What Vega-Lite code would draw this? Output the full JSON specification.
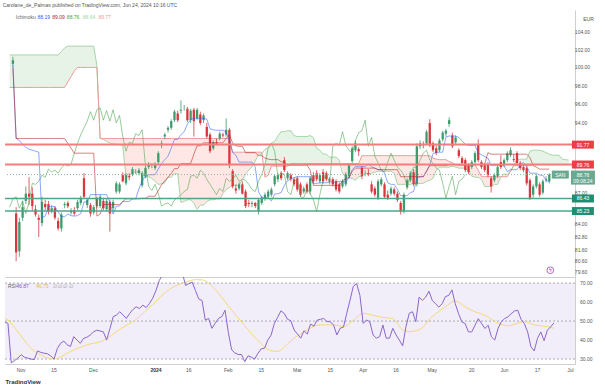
{
"$schema":"https://vega.github.io/schema/vega-lite/v6.json",
"padding":{"left":2,"top":3,"right":0,"bottom":0},
"background":"white",
"config":{"view":{"stroke":null},"font":"Liberation Sans"},
"title":{"text":"Carolane_de_Palmas published on TradingView.com, Jun 24, 2024 10:16 UTC","anchor":"start","fontSize":5,"fontWeight":"normal","color":"#555","offset":2},
"spacing":0,
"datasets":{
"one":[{}],
"pt":[{"v":104},{"v":102},{"v":100},{"v":98},{"v":96},{"v":94},{"v":87},{"v":84},{"v":82.8},{"v":81.6},{"v":80.6},{"v":79.6}],
"rt":[{"v":70},{"v":60},{"v":50},{"v":40},{"v":30}],
"xt":[{"i":0,"t":"Nov"},{"i":10,"t":"15"},{"i":22,"t":"Dec"},{"i":41,"t":"2024"},{"i":51,"t":"16"},{"i":63,"t":"Feb"},{"i":73,"t":"15"},{"i":84,"t":"Mar"},{"i":94,"t":"15"},{"i":104,"t":"Apr"},{"i":114,"t":"16"},{"i":125,"t":"May"},{"i":137,"t":"20"},{"i":147,"t":"Jun"},{"i":157,"t":"17"},{"i":167,"t":"Jul"}],
"d":[
{"i":-5,"lag":85.6,"sa":101.4,"sb":97.8,"cs":1,"rsi":49.5},
{"i":-4,"o":100.4,"h":101.2,"l":100.1,"c":100.8,"tk":100.3,"kj":100.0,"lag":86.4,"sa":101.4,"sb":97.8,"cs":1,"rsi":48.8},
{"i":-3,"o":85.0,"h":85.6,"l":80.6,"c":81.4,"tk":92.4,"kj":92.4,"lag":86.6,"sa":101.4,"sb":97.8,"cs":1,"rsi":28.0},
{"i":-2,"o":81.5,"h":84.6,"l":81.0,"c":84.2,"tk":92.2,"kj":92.4,"lag":85.5,"sa":101.4,"sb":97.8,"cs":1,"rsi":29.2},
{"i":-1,"o":84.6,"h":86.2,"l":84.3,"c":85.6,"tk":91.8,"kj":92.4,"lag":86.2,"sa":101.4,"sb":97.8,"cs":1,"rsi":30.5},
{"i":0,"o":86.2,"h":87.6,"l":85.9,"c":86.9,"tk":91.5,"kj":92.4,"lag":85.0,"sa":101.4,"sb":97.8,"cs":1,"rsi":32.3},
{"i":1,"o":86.9,"h":88.5,"l":85.8,"c":86.6,"tk":91.3,"kj":92.4,"lag":86.1,"sa":101.4,"sb":97.8,"cs":1,"rsi":31.0},
{"i":2,"o":86.9,"h":87.5,"l":85.3,"c":85.7,"tk":91.2,"kj":92.4,"lag":87.9,"sa":101.4,"sb":97.8,"cs":1,"rsi":30.5},
{"i":3,"o":85.4,"h":85.8,"l":84.7,"c":84.9,"tk":91.1,"kj":92.4,"lag":87.8,"sa":101.4,"sb":97.8,"cs":1,"rsi":30.0},
{"i":4,"o":84.6,"h":84.9,"l":82.8,"c":84.4,"tk":91.0,"kj":92.4,"lag":88.1,"sa":101.4,"sb":97.8,"cs":1,"rsi":29.7},
{"i":5,"o":84.1,"h":86.6,"l":83.8,"c":86.1,"tk":84.6,"kj":92.4,"lag":88.7,"sa":101.4,"sb":97.8,"cs":1,"rsi":34.3},
{"i":6,"o":85.9,"h":86.3,"l":85.3,"c":85.6,"tk":84.75,"kj":92.4,"lag":88.5,"sa":101.4,"sb":97.8,"cs":1,"rsi":33.5},
{"i":7,"o":85.9,"h":86.2,"l":84.9,"c":85.2,"tk":85.65,"kj":92.4,"lag":89.3,"sa":101.4,"sb":97.8,"cs":1,"rsi":33.1},
{"i":8,"o":85.2,"h":85.8,"l":85.0,"c":85.5,"tk":85.65,"kj":92.4,"lag":89.0,"sa":101.4,"sb":97.8,"cs":1,"rsi":32.8},
{"i":9,"o":85.5,"h":85.7,"l":84.4,"c":84.6,"tk":85.65,"kj":92.4,"lag":89.2,"sa":101.4,"sb":97.8,"cs":1,"rsi":31.7},
{"i":10,"o":84.3,"h":84.6,"l":83.4,"c":83.6,"tk":85.15,"kj":92.4,"lag":88.9,"sa":101.4,"sb":97.8,"cs":1,"rsi":30.0},
{"i":11,"o":83.6,"h":85.1,"l":83.3,"c":84.9,"tk":84.7,"kj":92.4,"lag":89.4,"sa":101.8,"sb":97.8,"cs":1,"rsi":35.5},
{"i":12,"o":85.8,"h":86.1,"l":85.5,"c":85.9,"tk":84.7,"kj":92.4,"lag":89.8,"sa":102.2,"sb":97.8,"cs":1,"rsi":38.3},
{"i":13,"o":86.0,"h":86.2,"l":85.5,"c":85.7,"tk":84.95,"kj":91.9,"lag":89.6,"sa":102.4,"sb":98.4,"cs":1,"rsi":39.5},
{"i":14,"o":85.1,"h":85.5,"l":84.9,"c":85.3,"tk":84.8,"kj":91.4,"lag":89.8,"sa":102.4,"sb":99.0,"cs":1,"rsi":37.5},
{"i":15,"o":85.3,"h":85.6,"l":84.8,"c":85.0,"tk":84.75,"kj":90.9,"lag":90.9,"sa":102.4,"sb":99.6,"cs":1,"rsi":36.6},
{"i":16,"o":85.5,"h":86.3,"l":85.3,"c":86.1,"tk":84.8,"kj":90.9,"lag":91.9,"sa":102.4,"sb":100.0,"cs":1,"rsi":41.8},
{"i":17,"o":86.0,"h":86.7,"l":85.8,"c":86.5,"tk":85.0,"kj":90.9,"lag":92.8,"sa":102.4,"sb":100.0,"cs":1,"rsi":40.0},
{"i":18,"o":88.4,"h":88.9,"l":86.4,"c":86.6,"tk":86.1,"kj":90.9,"lag":93.5,"sa":102.4,"sb":100.0,"cs":1,"rsi":38.3},
{"i":19,"o":85.8,"h":86.5,"l":85.5,"c":86.3,"tk":86.1,"kj":90.9,"lag":94.2,"sa":102.4,"sb":100.0,"cs":1,"rsi":40.9},
{"i":20,"o":85.8,"h":86.0,"l":84.7,"c":85.0,"tk":86.8,"kj":90.9,"lag":95.2,"sa":102.4,"sb":100.0,"cs":1,"rsi":41.5},
{"i":21,"o":85.1,"h":85.8,"l":84.9,"c":85.6,"tk":86.8,"kj":90.9,"lag":94.3,"sa":102.4,"sb":100.0,"cs":1,"rsi":42.6},
{"i":22,"o":85.7,"h":86.6,"l":85.5,"c":86.4,"tk":86.8,"kj":84.75,"lag":95.4,"sa":100.2,"sb":100.0,"cs":1,"rsi":44.3},
{"i":23,"o":85.7,"h":86.8,"l":85.5,"c":86.6,"tk":86.8,"kj":84.95,"lag":95.6,"sa":92.4,"sb":92.4,"cs":2,"rsi":45.2},
{"i":24,"o":86.2,"h":86.5,"l":85.3,"c":85.5,"tk":86.8,"kj":85.85,"lag":94.3,"sa":92.3,"sb":92.4,"cs":2,"rsi":44.8},
{"i":25,"o":85.4,"h":86.4,"l":85.2,"c":86.2,"tk":86.8,"kj":85.85,"lag":95.3,"sa":92.1,"sb":92.4,"cs":2,"rsi":44.3},
{"i":26,"o":86.1,"h":86.3,"l":83.3,"c":85.0,"tk":86.1,"kj":85.85,"lag":94.2,"sa":91.95,"sb":92.4,"cs":2,"rsi":40.0},
{"i":27,"o":85.5,"h":86.3,"l":85.2,"c":86.1,"tk":84.95,"kj":85.85,"lag":95.4,"sa":91.85,"sb":92.4,"cs":2,"rsi":46.0},
{"i":28,"o":87.1,"h":88.1,"l":86.9,"c":87.9,"tk":85.7,"kj":85.85,"lag":94.0,"sa":91.8,"sb":92.4,"cs":2,"rsi":52.3},
{"i":29,"o":87.1,"h":88.0,"l":86.9,"c":87.8,"tk":85.7,"kj":85.85,"lag":94.8,"sa":91.75,"sb":92.4,"cs":2,"rsi":53.2},
{"i":30,"o":88.7,"h":89.0,"l":88.0,"c":88.1,"tk":86.15,"kj":86.15,"lag":92.6,"sa":91.7,"sb":92.4,"cs":2,"rsi":54.9},
{"i":31,"o":87.9,"h":88.9,"l":87.7,"c":88.7,"tk":86.15,"kj":86.4,"lag":91.1,"sa":88.5,"sb":92.4,"cs":2,"rsi":53.2},
{"i":32,"o":88.6,"h":88.9,"l":88.2,"c":88.5,"tk":86.15,"kj":86.4,"lag":92.0,"sa":88.6,"sb":92.4,"cs":2,"rsi":51.4},
{"i":33,"o":88.8,"h":89.5,"l":88.6,"c":89.3,"tk":86.4,"kj":86.4,"lag":91.9,"sa":89.0,"sb":92.4,"cs":2,"rsi":54.0},
{"i":34,"o":89.0,"h":89.3,"l":88.8,"c":89.0,"tk":86.4,"kj":86.4,"lag":92.9,"sa":89.0,"sb":92.4,"cs":2,"rsi":56.1},
{"i":35,"o":88.9,"h":89.4,"l":88.7,"c":89.2,"tk":87.35,"kj":86.4,"lag":92.7,"sa":89.0,"sb":92.4,"cs":2,"rsi":57.5},
{"i":36,"o":87.7,"h":89.1,"l":87.5,"c":88.9,"tk":88.2,"kj":86.45,"lag":93.3,"sa":88.8,"sb":92.4,"cs":2,"rsi":56.6},
{"i":37,"o":88.6,"h":89.6,"l":88.4,"c":89.4,"tk":88.55,"kj":86.45,"lag":89.7,"sa":88.55,"sb":92.4,"cs":2,"rsi":58.4},
{"i":38,"o":89.5,"h":90.0,"l":89.3,"c":89.8,"tk":88.75,"kj":86.65,"lag":87.6,"sa":88.55,"sb":92.4,"cs":2,"rsi":57.1},
{"i":39,"o":89.6,"h":89.9,"l":89.4,"c":89.6,"tk":88.75,"kj":86.65,"lag":87.2,"sa":88.4,"sb":92.4,"cs":2,"rsi":59.2},
{"i":40,"o":89.4,"h":90.0,"l":89.2,"c":89.8,"tk":88.75,"kj":86.65,"lag":87.8,"sa":88.1,"sb":92.4,"cs":2,"rsi":62.0},
{"i":41,"o":90.0,"h":91.1,"l":89.8,"c":90.9,"tk":89.3,"kj":87.2,"lag":86.9,"sa":87.8,"sb":92.4,"cs":2,"rsi":66.1},
{"i":42,"o":91.7,"h":92.2,"l":91.4,"c":91.9,"tk":89.85,"kj":87.75,"lag":85.7,"sa":87.85,"sb":92.4,"cs":2,"rsi":71.3},
{"i":43,"o":92.6,"h":93.0,"l":92.3,"c":92.8,"tk":90.25,"kj":88.15,"lag":85.9,"sa":87.95,"sb":92.4,"cs":2,"rsi":74.5},
{"i":44,"o":93.3,"h":93.7,"l":93.0,"c":93.5,"tk":90.6,"kj":88.5,"lag":86.0,"sa":88.5,"sb":92.4,"cs":2,"rsi":76.5},
{"i":45,"o":93.5,"h":94.4,"l":93.3,"c":94.2,"tk":91.4,"kj":88.85,"lag":85.7,"sa":88.5,"sb":92.4,"cs":2,"rsi":78.5},
{"i":46,"o":94.3,"h":95.4,"l":94.1,"c":95.2,"tk":92.3,"kj":89.35,"lag":86.3,"sa":88.85,"sb":92.4,"cs":2,"rsi":80.5},
{"i":47,"o":95.0,"h":95.3,"l":94.1,"c":94.3,"tk":92.3,"kj":89.35,"lag":86.5,"sa":88.85,"sb":92.4,"cs":2,"rsi":74.5},
{"i":48,"o":95.3,"h":96.4,"l":95.0,"c":95.4,"tk":92.8,"kj":89.85,"lag":86.8,"sa":86.05,"sb":92.4,"cs":2,"rsi":76.0},
{"i":49,"o":95.6,"h":95.9,"l":95.3,"c":95.6,"tk":93.1,"kj":89.85,"lag":87.1,"sa":86.15,"sb":92.4,"cs":2,"rsi":75.5},
{"i":50,"o":95.5,"h":95.7,"l":94.1,"c":94.3,"tk":93.9,"kj":89.85,"lag":87.3,"sa":86.3,"sb":92.4,"cs":2,"rsi":68.8},
{"i":51,"o":94.3,"h":95.5,"l":94.0,"c":95.3,"tk":94.35,"kj":89.85,"lag":88.6,"sa":86.3,"sb":92.4,"cs":2,"rsi":69.7},
{"i":52,"o":95.4,"h":95.6,"l":92.6,"c":94.2,"tk":94.5,"kj":90.8,"lag":88.7,"sa":86.0,"sb":92.4,"cs":2,"rsi":70.5},
{"i":53,"o":94.5,"h":95.6,"l":94.3,"c":95.4,"tk":94.5,"kj":91.65,"lag":88.4,"sa":85.4,"sb":92.4,"cs":2,"rsi":66.1},
{"i":54,"o":94.9,"h":95.2,"l":93.8,"c":94.0,"tk":94.5,"kj":91.65,"lag":89.2,"sa":85.8,"sb":92.4,"cs":2,"rsi":61.7},
{"i":55,"o":94.3,"h":95.0,"l":94.0,"c":94.8,"tk":94.5,"kj":91.95,"lag":88.9,"sa":85.8,"sb":92.4,"cs":2,"rsi":60.8},
{"i":56,"o":93.6,"h":94.0,"l":92.4,"c":92.6,"tk":94.4,"kj":91.95,"lag":88.3,"sa":86.15,"sb":92.4,"cs":2,"rsi":50.5},
{"i":57,"o":92.8,"h":93.0,"l":90.9,"c":91.1,"tk":93.4,"kj":91.95,"lag":87.8,"sa":86.3,"sb":92.4,"cs":2,"rsi":51.4},
{"i":58,"o":91.4,"h":92.2,"l":91.2,"c":92.0,"tk":93.3,"kj":91.95,"lag":87.3,"sa":86.3,"sb":92.4,"cs":2,"rsi":46.2},
{"i":59,"o":92.0,"h":92.4,"l":91.7,"c":91.9,"tk":93.25,"kj":91.95,"lag":86.8,"sa":86.4,"sb":92.4,"cs":2,"rsi":48.8},
{"i":60,"o":92.4,"h":93.1,"l":92.2,"c":92.9,"tk":93.25,"kj":91.95,"lag":87.4,"sa":86.4,"sb":92.4,"cs":2,"rsi":51.4},
{"i":61,"o":92.8,"h":93.0,"l":92.5,"c":92.7,"tk":93.25,"kj":91.95,"lag":87.1,"sa":86.9,"sb":92.4,"cs":2,"rsi":52.3},
{"i":62,"o":92.8,"h":94.5,"l":92.6,"c":93.3,"tk":93.05,"kj":92.4,"lag":88.4,"sa":87.3,"sb":92.4,"cs":2,"rsi":55.7},
{"i":63,"o":93.3,"h":93.5,"l":89.4,"c":89.7,"tk":92.2,"kj":92.8,"lag":88.1,"sa":87.5,"sb":92.4,"cs":2,"rsi":44.0},
{"i":64,"o":89.1,"h":89.3,"l":87.4,"c":87.6,"tk":90.95,"kj":91.9,"lag":88.3,"sa":87.7,"sb":91.0,"cs":2,"rsi":34.9},
{"i":65,"o":87.4,"h":87.8,"l":86.9,"c":87.2,"tk":90.7,"kj":91.65,"lag":88.7,"sa":87.7,"sb":91.0,"cs":2,"rsi":33.2},
{"i":66,"o":87.4,"h":88.0,"l":87.2,"c":87.8,"tk":90.0,"kj":91.6,"lag":88.1,"sa":87.7,"sb":91.0,"cs":2,"rsi":32.4},
{"i":67,"o":87.8,"h":88.1,"l":86.8,"c":86.9,"tk":90.0,"kj":91.6,"lag":88.3,"sa":88.25,"sb":91.0,"cs":2,"rsi":32.4},
{"i":68,"o":87.1,"h":87.3,"l":85.5,"c":85.7,"tk":90.0,"kj":90.95,"lag":88.2,"sa":88.8,"sb":91.0,"cs":2,"rsi":28.6},
{"i":69,"o":86.0,"h":86.3,"l":85.6,"c":85.9,"tk":90.0,"kj":90.95,"lag":87.8,"sa":89.2,"sb":91.0,"cs":2,"rsi":31.7},
{"i":70,"o":85.9,"h":86.2,"l":85.6,"c":86.0,"tk":90.0,"kj":90.95,"lag":87.3,"sa":89.55,"sb":91.0,"cs":2,"rsi":31.0},
{"i":71,"o":86.0,"h":86.1,"l":85.5,"c":85.7,"tk":89.5,"kj":90.95,"lag":87.1,"sa":90.1,"sb":91.0,"cs":2,"rsi":30.0},
{"i":72,"o":85.2,"h":86.4,"l":84.9,"c":86.3,"tk":87.1,"kj":90.65,"lag":88.1,"sa":90.8,"sb":91.0,"cs":2,"rsi":33.0},
{"i":73,"o":86.0,"h":86.7,"l":85.8,"c":86.5,"tk":86.5,"kj":90.65,"lag":88.8,"sa":90.8,"sb":91.0,"cs":2,"rsi":35.4},
{"i":74,"o":86.4,"h":87.0,"l":86.2,"c":86.8,"tk":86.5,"kj":90.4,"lag":89.7,"sa":91.3,"sb":88.5,"cs":3,"rsi":35.7},
{"i":75,"o":86.6,"h":87.3,"l":86.4,"c":87.1,"tk":86.5,"kj":90.3,"lag":91.4,"sa":91.5,"sb":88.7,"cs":3,"rsi":40.0},
{"i":76,"o":86.8,"h":87.5,"l":86.6,"c":87.3,"tk":86.2,"kj":90.25,"lag":91.9,"sa":91.9,"sb":89.6,"cs":3,"rsi":42.6},
{"i":77,"o":87.8,"h":88.8,"l":87.6,"c":88.6,"tk":86.85,"kj":90.25,"lag":91.1,"sa":92.1,"sb":89.6,"cs":3,"rsi":48.8},
{"i":78,"o":88.3,"h":88.9,"l":88.0,"c":88.7,"tk":86.9,"kj":90.25,"lag":88.6,"sa":92.65,"sb":89.6,"cs":3,"rsi":52.0},
{"i":79,"o":88.9,"h":89.1,"l":88.2,"c":88.4,"tk":87.0,"kj":90.05,"lag":88.9,"sa":93.1,"sb":89.6,"cs":3,"rsi":55.4},
{"i":80,"o":90.2,"h":90.5,"l":89.0,"c":89.2,"tk":87.7,"kj":89.95,"lag":88.8,"sa":93.1,"sb":89.6,"cs":3,"rsi":54.0},
{"i":81,"o":88.4,"h":89.1,"l":88.2,"c":88.9,"tk":88.15,"kj":89.7,"lag":87.1,"sa":93.2,"sb":89.6,"cs":3,"rsi":50.9},
{"i":82,"o":88.7,"h":88.9,"l":88.1,"c":88.3,"tk":88.35,"kj":89.7,"lag":86.8,"sa":93.2,"sb":89.85,"cs":3,"rsi":50.2},
{"i":83,"o":88.3,"h":88.5,"l":87.6,"c":87.8,"tk":88.45,"kj":89.7,"lag":88.1,"sa":92.7,"sb":89.85,"cs":3,"rsi":45.3},
{"i":84,"o":88.4,"h":88.6,"l":87.1,"c":87.3,"tk":88.55,"kj":89.7,"lag":88.3,"sa":92.6,"sb":89.85,"cs":3,"rsi":43.2},
{"i":85,"o":87.8,"h":88.0,"l":86.6,"c":86.8,"tk":88.55,"kj":89.7,"lag":86.6,"sa":92.6,"sb":89.85,"cs":3,"rsi":41.0},
{"i":86,"o":87.1,"h":87.6,"l":86.9,"c":87.4,"tk":88.55,"kj":89.7,"lag":86.5,"sa":92.6,"sb":89.85,"cs":3,"rsi":44.9},
{"i":87,"o":87.8,"h":88.0,"l":86.9,"c":87.1,"tk":88.55,"kj":89.7,"lag":87.4,"sa":92.6,"sb":89.85,"cs":3,"rsi":43.2},
{"i":88,"o":87.1,"h":88.6,"l":86.8,"c":88.4,"tk":88.55,"kj":89.2,"lag":86.9,"sa":92.7,"sb":89.85,"cs":3,"rsi":48.4},
{"i":89,"o":88.7,"h":89.0,"l":87.9,"c":88.1,"tk":87.85,"kj":87.7,"lag":86.3,"sa":92.5,"sb":89.85,"cs":3,"rsi":47.3},
{"i":90,"o":88.9,"h":89.2,"l":88.1,"c":88.3,"tk":87.9,"kj":87.7,"lag":85.2,"sa":91.4,"sb":89.85,"cs":3,"rsi":50.5},
{"i":91,"o":88.1,"h":88.9,"l":87.9,"c":88.7,"tk":87.95,"kj":87.7,"lag":86.8,"sa":91.2,"sb":89.85,"cs":3,"rsi":50.9},
{"i":92,"o":89.0,"h":89.3,"l":87.9,"c":88.1,"tk":87.95,"kj":87.7,"lag":88.2,"sa":90.8,"sb":89.85,"cs":3,"rsi":51.4},
{"i":93,"o":88.9,"h":89.1,"l":88.1,"c":88.3,"tk":87.95,"kj":87.7,"lag":88.9,"sa":90.8,"sb":89.85,"cs":3,"rsi":49.7},
{"i":94,"o":88.3,"h":88.5,"l":88.0,"c":88.2,"tk":88.05,"kj":87.7,"lag":87.8,"sa":90.5,"sb":89.85,"cs":3,"rsi":49.7},
{"i":95,"o":88.3,"h":88.5,"l":87.6,"c":87.8,"tk":88.05,"kj":87.7,"lag":91.6,"sa":90.5,"sb":89.85,"cs":3,"rsi":47.9},
{"i":96,"o":88.1,"h":88.3,"l":87.1,"c":87.3,"tk":88.05,"kj":87.7,"lag":91.9,"sa":90.5,"sb":89.85,"cs":3,"rsi":42.7},
{"i":97,"o":87.8,"h":88.0,"l":86.9,"c":87.1,"tk":88.1,"kj":87.7,"lag":91.7,"sa":90.2,"sb":89.85,"cs":3,"rsi":46.2},
{"i":98,"o":87.6,"h":88.3,"l":87.4,"c":88.1,"tk":88.1,"kj":88.15,"lag":93.1,"sa":88.9,"sb":89.85,"cs":4,"rsi":46.8},
{"i":99,"o":87.8,"h":89.0,"l":87.6,"c":88.8,"tk":88.1,"kj":88.35,"lag":91.7,"sa":88.6,"sb":89.85,"cs":4,"rsi":54.1},
{"i":100,"o":88.6,"h":89.9,"l":88.4,"c":89.7,"tk":88.4,"kj":88.45,"lag":91.2,"sa":88.45,"sb":89.85,"cs":4,"rsi":61.0},
{"i":101,"o":90.1,"h":91.6,"l":89.9,"c":91.4,"tk":89.25,"kj":89.1,"lag":90.9,"sa":88.4,"sb":89.85,"cs":4,"rsi":68.3},
{"i":102,"o":91.2,"h":92.2,"l":91.0,"c":91.9,"tk":89.55,"kj":89.4,"lag":92.2,"sa":88.2,"sb":89.85,"cs":4,"rsi":69.7},
{"i":103,"o":91.3,"h":91.5,"l":90.6,"c":91.1,"tk":89.55,"kj":89.4,"lag":93.0,"sa":88.55,"sb":89.85,"cs":4,"rsi":63.6},
{"i":104,"o":89.4,"h":89.6,"l":88.3,"c":88.6,"tk":89.55,"kj":89.4,"lag":93.2,"sa":88.6,"sb":90.65,"cs":4,"rsi":48.8},
{"i":105,"o":88.9,"h":89.2,"l":88.6,"c":88.9,"tk":89.55,"kj":89.4,"lag":94.3,"sa":88.9,"sb":90.65,"cs":4,"rsi":50.5},
{"i":106,"o":88.9,"h":89.3,"l":88.6,"c":88.8,"tk":89.8,"kj":89.4,"lag":91.6,"sa":88.8,"sb":90.65,"cs":4,"rsi":49.7},
{"i":107,"o":87.8,"h":88.1,"l":86.9,"c":87.1,"tk":89.55,"kj":89.4,"lag":92.5,"sa":88.9,"sb":90.65,"cs":4,"rsi":42.7},
{"i":108,"o":87.4,"h":87.6,"l":86.6,"c":86.8,"tk":89.4,"kj":89.4,"lag":90.6,"sa":89.0,"sb":90.65,"cs":4,"rsi":41.0},
{"i":109,"o":86.5,"h":88.3,"l":86.3,"c":88.1,"tk":89.25,"kj":89.25,"lag":89.9,"sa":89.1,"sb":90.65,"cs":4,"rsi":41.8},
{"i":110,"o":87.8,"h":88.5,"l":87.6,"c":88.3,"tk":89.25,"kj":89.25,"lag":89.2,"sa":89.1,"sb":90.65,"cs":4,"rsi":47.9},
{"i":111,"o":87.8,"h":88.0,"l":86.4,"c":86.6,"tk":88.9,"kj":89.25,"lag":89.0,"sa":89.1,"sb":90.65,"cs":4,"rsi":41.0},
{"i":112,"o":86.8,"h":87.2,"l":86.3,"c":86.5,"tk":87.95,"kj":89.25,"lag":90.0,"sa":89.1,"sb":90.65,"cs":4,"rsi":41.0},
{"i":113,"o":86.9,"h":87.6,"l":86.7,"c":87.4,"tk":87.8,"kj":89.25,"lag":90.9,"sa":89.1,"sb":90.65,"cs":4,"rsi":46.2},
{"i":114,"o":87.3,"h":87.5,"l":86.7,"c":86.9,"tk":87.8,"kj":89.25,"lag":90.2,"sa":88.9,"sb":90.65,"cs":4,"rsi":42.7},
{"i":115,"o":86.9,"h":87.1,"l":86.1,"c":86.3,"tk":87.3,"kj":89.25,"lag":89.5,"sa":87.8,"sb":90.65,"cs":4,"rsi":40.0},
{"i":116,"o":86.0,"h":86.2,"l":84.9,"c":85.2,"tk":86.7,"kj":88.55,"lag":89.2,"sa":87.8,"sb":90.65,"cs":4,"rsi":36.9},
{"i":117,"o":85.2,"h":87.0,"l":85.0,"c":86.8,"tk":86.7,"kj":88.55,"lag":88.7,"sa":87.8,"sb":90.65,"cs":4,"rsi":47.0},
{"i":118,"o":87.5,"h":88.4,"l":87.3,"c":88.2,"tk":86.7,"kj":88.55,"lag":87.6,"sa":87.8,"sb":90.65,"cs":4,"rsi":54.1},
{"i":119,"o":88.2,"h":89.1,"l":88.0,"c":88.9,"tk":87.0,"kj":88.55,"lag":88.7,"sa":87.8,"sb":90.65,"cs":4,"rsi":54.9},
{"i":120,"o":89.0,"h":89.3,"l":87.6,"c":87.8,"tk":87.1,"kj":88.55,"lag":89.5,"sa":87.9,"sb":90.65,"cs":4,"rsi":49.7},
{"i":121,"o":87.8,"h":91.9,"l":87.6,"c":91.6,"tk":88.4,"kj":88.55,"lag":89.5,"sa":87.9,"sb":90.65,"cs":4,"rsi":62.6},
{"i":122,"o":91.6,"h":92.2,"l":91.3,"c":91.9,"tk":88.55,"kj":88.55,"lag":90.2,"sa":87.9,"sb":90.65,"cs":4,"rsi":60.9},
{"i":123,"o":91.8,"h":92.1,"l":91.4,"c":91.7,"tk":88.55,"kj":88.55,"lag":90.9,"sa":87.9,"sb":90.65,"cs":4,"rsi":62.6},
{"i":124,"o":91.9,"h":93.3,"l":91.7,"c":93.1,"tk":89.1,"kj":89.1,"lag":91.2,"sa":88.1,"sb":90.65,"cs":4,"rsi":65.7},
{"i":125,"o":94.0,"h":94.4,"l":91.5,"c":91.7,"tk":89.7,"kj":89.65,"lag":90.2,"sa":88.2,"sb":90.65,"cs":4,"rsi":60.9},
{"i":126,"o":91.9,"h":92.1,"l":91.0,"c":91.2,"tk":90.85,"kj":89.65,"lag":89.9,"sa":88.4,"sb":90.4,"cs":4,"rsi":59.1},
{"i":127,"o":91.4,"h":91.7,"l":90.7,"c":90.9,"tk":91.0,"kj":89.65,"lag":89.4,"sa":89.2,"sb":90.3,"cs":4,"rsi":57.4},
{"i":128,"o":91.2,"h":92.4,"l":91.0,"c":92.2,"tk":91.0,"kj":89.65,"lag":89.2,"sa":89.5,"sb":90.25,"cs":4,"rsi":59.1},
{"i":129,"o":92.3,"h":93.2,"l":92.1,"c":93.0,"tk":91.0,"kj":89.65,"lag":87.9,"sa":89.5,"sb":90.25,"cs":4,"rsi":62.9},
{"i":130,"o":92.9,"h":93.4,"l":92.6,"c":93.2,"tk":92.55,"kj":89.65,"lag":86.5,"sa":89.5,"sb":90.25,"cs":4,"rsi":63.5},
{"i":131,"o":93.9,"h":94.6,"l":93.6,"c":94.3,"tk":92.65,"kj":89.75,"lag":87.6,"sa":89.5,"sb":90.05,"cs":4,"rsi":66.4},
{"i":132,"o":92.7,"h":93.0,"l":91.4,"c":91.6,"tk":92.65,"kj":89.75,"lag":88.6,"sa":89.6,"sb":89.95,"cs":4,"rsi":59.1},
{"i":133,"o":92.0,"h":92.7,"l":91.8,"c":92.5,"tk":92.65,"kj":89.75,"lag":86.8,"sa":89.5,"sb":89.7,"cs":4,"rsi":53.9},
{"i":134,"o":91.2,"h":91.4,"l":90.4,"c":90.6,"tk":92.5,"kj":89.75,"lag":88.1,"sa":89.4,"sb":89.7,"cs":4,"rsi":49.6},
{"i":135,"o":90.4,"h":90.6,"l":89.7,"c":89.9,"tk":92.15,"kj":89.75,"lag":88.3,"sa":89.4,"sb":89.7,"cs":4,"rsi":48.7},
{"i":136,"o":90.2,"h":90.4,"l":89.0,"c":89.2,"tk":91.8,"kj":89.75,"lag":88.76,"sa":89.4,"sb":89.7,"cs":4,"rsi":44.3},
{"i":137,"o":89.7,"h":89.9,"l":88.8,"c":89.0,"tk":91.7,"kj":89.75,"sa":89.1,"sb":89.7,"cs":4,"rsi":44.3},
{"i":138,"o":89.5,"h":90.2,"l":89.3,"c":90.0,"tk":91.7,"kj":89.75,"sa":88.6,"sb":89.7,"cs":4,"rsi":47.8},
{"i":139,"o":90.0,"h":91.1,"l":89.8,"c":90.9,"tk":91.7,"kj":89.75,"sa":88.5,"sb":89.7,"cs":4,"rsi":51.3},
{"i":140,"o":91.8,"h":92.3,"l":90.0,"c":90.2,"tk":90.9,"kj":89.75,"sa":88.5,"sb":89.2,"cs":4,"rsi":48.7},
{"i":141,"o":90.0,"h":90.2,"l":89.3,"c":89.5,"tk":90.75,"kj":89.75,"sa":88.3,"sb":88.55,"cs":4,"rsi":46.1},
{"i":142,"o":89.7,"h":89.9,"l":89.0,"c":89.2,"tk":90.55,"kj":89.8,"sa":87.6,"sb":88.55,"cs":4,"rsi":47.8},
{"i":143,"o":89.8,"h":90.0,"l":88.5,"c":88.7,"tk":90.4,"kj":90.95,"sa":87.6,"sb":88.55,"cs":4,"rsi":41.7},
{"i":144,"o":88.4,"h":88.6,"l":87.0,"c":87.6,"tk":89.65,"kj":90.8,"sa":87.6,"sb":88.55,"cs":4,"rsi":40.0},
{"i":145,"o":88.2,"h":88.9,"l":88.0,"c":88.7,"tk":89.65,"kj":90.8,"sa":87.8,"sb":88.55,"cs":4,"rsi":46.1},
{"i":146,"o":88.6,"h":89.7,"l":88.4,"c":89.5,"tk":89.65,"kj":90.8,"sa":87.8,"sb":88.55,"cs":4,"rsi":49.6},
{"i":147,"o":90.0,"h":90.7,"l":89.3,"c":89.5,"tk":89.65,"kj":90.8,"sa":88.5,"sb":88.55,"cs":4,"rsi":51.3},
{"i":148,"o":89.7,"h":90.4,"l":89.5,"c":90.2,"tk":89.65,"kj":90.8,"sa":88.8,"sb":88.55,"cs":5,"rsi":52.2},
{"i":149,"o":90.2,"h":91.1,"l":90.0,"c":90.9,"tk":89.05,"kj":90.8,"sa":88.8,"sb":88.55,"cs":5,"rsi":53.9},
{"i":150,"o":90.7,"h":91.5,"l":90.5,"c":91.2,"tk":89.25,"kj":90.8,"sa":89.1,"sb":89.1,"cs":5,"rsi":55.3},
{"i":151,"o":90.3,"h":90.8,"l":90.0,"c":90.2,"tk":89.25,"kj":90.8,"sa":89.7,"sb":89.65,"cs":5,"rsi":55.7},
{"i":152,"o":90.9,"h":91.1,"l":89.7,"c":89.9,"tk":89.25,"kj":90.8,"sa":90.25,"sb":89.65,"cs":5,"rsi":50.9},
{"i":153,"o":89.9,"h":90.1,"l":89.2,"c":89.4,"tk":89.75,"kj":90.8,"sa":90.3,"sb":89.65,"cs":5,"rsi":48.7},
{"i":154,"o":89.5,"h":89.8,"l":89.0,"c":89.2,"tk":89.95,"kj":90.8,"sa":90.3,"sb":89.65,"cs":5,"rsi":44.3},
{"i":155,"o":89.4,"h":89.6,"l":87.7,"c":87.9,"tk":89.6,"kj":90.8,"sa":90.3,"sb":89.65,"cs":5,"rsi":36.5},
{"i":156,"o":88.2,"h":88.4,"l":86.3,"c":86.5,"tk":88.9,"kj":90.45,"sa":91.1,"sb":89.65,"cs":5,"rsi":34.3},
{"i":157,"o":86.8,"h":87.8,"l":86.5,"c":87.6,"tk":88.9,"kj":89.65,"sa":91.2,"sb":89.75,"cs":5,"rsi":40.9},
{"i":158,"o":87.6,"h":88.8,"l":87.4,"c":88.6,"tk":88.9,"kj":89.5,"sa":91.2,"sb":89.75,"cs":5,"rsi":44.3},
{"i":159,"o":87.8,"h":88.0,"l":86.6,"c":86.8,"tk":88.7,"kj":89.3,"sa":91.2,"sb":89.75,"cs":5,"rsi":39.7},
{"i":160,"o":87.0,"h":88.3,"l":86.8,"c":88.1,"tk":88.7,"kj":89.3,"sa":91.1,"sb":89.75,"cs":5,"rsi":45.2},
{"i":161,"o":88.2,"h":88.6,"l":88.0,"c":88.3,"tk":88.2,"kj":89.3,"sa":90.95,"sb":89.75,"cs":5,"rsi":47.0},
{"i":162,"o":88.1,"h":88.9,"l":87.9,"c":88.76,"tk":88.05,"kj":89.3,"sa":90.8,"sb":89.75,"cs":5,"rsi":49.0},
{"i":163,"sa":90.7,"sb":89.75,"cs":5},
{"i":164,"sa":90.7,"sb":89.75,"cs":5},
{"i":165,"sa":90.7,"sb":89.75,"cs":5},
{"i":166,"sa":90.3,"sb":89.75,"cs":5},
{"i":167,"sa":90.25,"sb":89.75,"cs":5},
{"i":168,"sa":90.2,"sb":89.75,"cs":5}
],
"ma":[
{"i":-5,"v":51.5},{"i":-4,"v":50.5},{"i":-1,"v":44.4},{"i":3,"v":35.7},{"i":6,"v":32.2},{"i":10,"v":30.0},{"i":15,"v":34.0},{"i":20,"v":37.5},{"i":25,"v":39.7},{"i":30,"v":45.7},{"i":35,"v":50.9},{"i":40,"v":58.8},{"i":45,"v":66.6},{"i":50,"v":70.5},{"i":53,"v":71.8},{"i":55,"v":71.7},{"i":59,"v":66.6},{"i":63,"v":58.0},{"i":68,"v":47.5},{"i":72,"v":39.7},{"i":76,"v":34.4},{"i":78,"v":34.0},{"i":81,"v":37.9},{"i":83,"v":41.0},{"i":85,"v":43.1},{"i":87,"v":45.4},{"i":91,"v":48.0},{"i":95,"v":48.0},{"i":98,"v":47.1},{"i":101,"v":50.5},{"i":104,"v":54.0},{"i":107,"v":53.1},{"i":110,"v":51.9},{"i":113,"v":51.4},{"i":116,"v":45.4},{"i":118,"v":44.5},{"i":121,"v":45.4},{"i":125,"v":52.3},{"i":129,"v":57.5},{"i":132,"v":60.6},{"i":135,"v":57.5},{"i":138,"v":54.9},{"i":141,"v":53.1},{"i":145,"v":48.8},{"i":148,"v":47.5},{"i":153,"v":49.7},{"i":156,"v":48.0},{"i":160,"v":47.1},{"i":162,"v":46.2}
],
"lv":[{"p":91.77,"k":"r"},{"p":89.76,"k":"r"},{"p":86.43,"k":"g"},{"p":85.23,"k":"g"}]
},
"vconcat":[
{
"width":570,"height":267,
"data":{"name":"d"},
"layer":[
{"mark":{"type":"area","fillOpacity":0.13},
 "encoding":{
  "x":{"field":"i","type":"quantitative","scale":{"domain":[-4.9,168.4],"nice":false,"zero":false},"axis":{"labels":false,"ticks":false,"grid":false,"domain":true,"domainColor":"#cfcfcf","title":null}},
  "y":{"field":"sa","type":"quantitative","scale":{"type":"log","domain":[79.2,106.6],"nice":false},
       "axis":{"orient":"right","values":[104],"labels":false,"ticks":false,"grid":false,"domain":true,"domainColor":"#cfcfcf","title":"EUR","titleAngle":0,"titleFontSize":5,"titleFontWeight":"normal","titleColor":"#555","titleX":13,"titleY":8,"titleAlign":"center","titleBaseline":"middle"}},
  "y2":{"field":"sb"},
  "detail":{"field":"cs"},
  "color":{"field":"cs","type":"nominal","scale":{"domain":[1,2,3,4,5],"range":["#43a047","#f44336","#43a047","#f44336","#43a047"]},"legend":null}
 }},
{"mark":{"type":"line","strokeWidth":1,"color":"#a5d6a7"},"encoding":{"x":{"field":"i","type":"quantitative"},"y":{"field":"sa","type":"quantitative"}}},
{"mark":{"type":"line","strokeWidth":1,"color":"#ef9a9a"},"encoding":{"x":{"field":"i","type":"quantitative"},"y":{"field":"sb","type":"quantitative"}}},
{"mark":{"type":"rule","strokeWidth":0.8},
 "encoding":{"x":{"field":"i","type":"quantitative"},"y":{"field":"l","type":"quantitative"},"y2":{"field":"h"},
  "color":{"condition":{"test":"datum.c>=datum.o","value":"#3f9a6c"},"value":"#d9363e"}}},
{"mark":{"type":"bar","width":2.3},
 "encoding":{"x":{"field":"i","type":"quantitative"},"y":{"field":"o","type":"quantitative"},"y2":{"field":"c"},
  "color":{"condition":{"test":"datum.c>=datum.o","value":"#3f9a6c"},"value":"#d9363e"}}},
{"mark":{"type":"line","strokeWidth":1,"color":"#43a047","opacity":0.55},"encoding":{"x":{"field":"i","type":"quantitative"},"y":{"field":"lag","type":"quantitative"}}},
{"mark":{"type":"line","strokeWidth":1,"color":"#2962ff","opacity":0.55},"encoding":{"x":{"field":"i","type":"quantitative"},"y":{"field":"tk","type":"quantitative"}}},
{"mark":{"type":"line","strokeWidth":1,"color":"#b71c1c","opacity":0.55},"encoding":{"x":{"field":"i","type":"quantitative"},"y":{"field":"kj","type":"quantitative"}}},
{"data":{"name":"one"},"mark":{"type":"rule","strokeWidth":1,"color":"#8fb5a6","strokeDash":[1,2]},"encoding":{"y":{"datum":88.76}}},
{"data":{"name":"lv"},"mark":{"type":"rule"},
 "encoding":{"y":{"field":"p","type":"quantitative"},
  "color":{"condition":{"test":"datum.k=='r'","value":"#f27d7d"},"value":"#4ea58c"},
  "strokeWidth":{"condition":{"test":"datum.k=='r'","value":2},"value":1.5}}},
{"data":{"name":"pt"},"mark":{"type":"text","fontSize":5,"color":"#555","align":"left","baseline":"middle"},
 "encoding":{"x":{"datum":169.9},"y":{"field":"v","type":"quantitative"},"text":{"field":"v","format":".2f"}}},
{"data":{"name":"lv"},"mark":{"type":"rect","width":22,"height":8},
 "encoding":{"x":{"datum":172.4},"y":{"field":"p","type":"quantitative"},
  "color":{"condition":{"test":"datum.k=='r'","value":"#ef3d45"},"value":"#1f8f74"}}},
{"data":{"name":"lv"},"mark":{"type":"text","fontSize":5,"color":"white","baseline":"middle"},
 "encoding":{"x":{"datum":172.4},"y":{"field":"p","type":"quantitative"},"text":{"field":"p","format":".2f"}}},
{"data":{"name":"one"},"mark":{"type":"rect","width":24,"height":14,"color":"#6aa88f","yOffset":3},"encoding":{"x":{"datum":172.4},"y":{"datum":88.76}}},
{"data":{"name":"one"},"mark":{"type":"text","fontSize":5,"color":"white","baseline":"middle","text":"88.76"},"encoding":{"x":{"datum":172.4},"y":{"datum":88.76}}},
{"data":{"name":"one"},"mark":{"type":"text","fontSize":5,"color":"white","baseline":"middle","text":"09:08:24","dy":6},"encoding":{"x":{"datum":172.4},"y":{"datum":88.76}}},
{"data":{"name":"one"},"mark":{"type":"rect","width":17,"height":8,"color":"#6aa88f"},"encoding":{"x":{"datum":165.4},"y":{"datum":88.76}}},
{"data":{"name":"one"},"mark":{"type":"text","fontSize":5,"color":"white","baseline":"middle","text":"SAN"},"encoding":{"x":{"datum":165.4},"y":{"datum":88.76}}},
{"data":{"name":"one"},"mark":{"type":"point","shape":"circle","size":45,"filled":false,"stroke":"#9c27b0","strokeWidth":1},"encoding":{"x":{"datum":162.3},"y":{"datum":79.8}}},
{"data":{"name":"one"},"mark":{"type":"text","fontSize":5,"color":"#9c27b0","baseline":"middle","text":"ϟ"},"encoding":{"x":{"datum":162.3},"y":{"datum":79.8}}},
{"data":{"name":"one"},"mark":{"type":"text","fontSize":5,"color":"#666","align":"left","baseline":"middle","text":"Ichimoku"},"encoding":{"x":{"datum":-3.1},"y":{"datum":105.75}}},
{"data":{"name":"one"},"mark":{"type":"text","fontSize":5,"color":"#2962ff","align":"left","baseline":"middle","text":"88.19"},"encoding":{"x":{"datum":3.6},"y":{"datum":105.75}}},
{"data":{"name":"one"},"mark":{"type":"text","fontSize":5,"color":"#b71c1c","align":"left","baseline":"middle","text":"89.09"},"encoding":{"x":{"datum":8.2},"y":{"datum":105.75}}},
{"data":{"name":"one"},"mark":{"type":"text","fontSize":5,"color":"#43a047","align":"left","baseline":"middle","text":"88.76"},"encoding":{"x":{"datum":12.7},"y":{"datum":105.75}}},
{"data":{"name":"one"},"mark":{"type":"text","fontSize":5,"color":"#a5d6a7","align":"left","baseline":"middle","text":"88.64"},"encoding":{"x":{"datum":17.6},"y":{"datum":105.75}}},
{"data":{"name":"one"},"mark":{"type":"text","fontSize":5,"color":"#ef9a9a","align":"left","baseline":"middle","text":"89.77"},"encoding":{"x":{"datum":22.5},"y":{"datum":105.75}}}
]
},
{
"width":570,"height":87,
"data":{"name":"d"},
"layer":[
{"data":{"name":"one"},"mark":{"type":"rect","color":"#7e57c2","opacity":0.1},
 "encoding":{
  "x":{"datum":-4.9,"type":"quantitative","scale":{"domain":[-4.9,168.4],"nice":false,"zero":false},
   "axis":{"orient":"bottom","values":[0],"labels":false,"ticks":false,"grid":false,"domain":true,"domainColor":"#cfcfcf",
    "title":"TradingView","titleAnchor":"start","titleFontSize":6,"titleFontWeight":"bold","titleColor":"#333","titlePadding":14}},
  "x2":{"datum":168.4},
  "y":{"datum":70,"type":"quantitative","scale":{"domain":[27.4,73.2],"nice":false,"zero":false},
   "axis":{"orient":"right","values":[50],"labels":false,"ticks":false,"grid":false,"domain":true,"domainColor":"#cfcfcf","title":null}},
  "y2":{"datum":30}
 }},
{"data":{"name":"one"},"mark":{"type":"rule","strokeWidth":0.8,"color":"#9598a1","strokeDash":[2,2]},"encoding":{"y":{"datum":70}}},
{"data":{"name":"one"},"mark":{"type":"rule","strokeWidth":0.8,"color":"#9598a1","strokeDash":[2,2]},"encoding":{"y":{"datum":50}}},
{"data":{"name":"one"},"mark":{"type":"rule","strokeWidth":0.8,"color":"#9598a1","strokeDash":[2,2]},"encoding":{"y":{"datum":30}}},
{"data":{"name":"ma"},"mark":{"type":"line","strokeWidth":1,"color":"#f5d97a","interpolate":"monotone"},"encoding":{"x":{"field":"i","type":"quantitative"},"y":{"field":"v","type":"quantitative"}}},
{"mark":{"type":"line","strokeWidth":1,"color":"#8a65cc","clip":true},"encoding":{"x":{"field":"i","type":"quantitative"},"y":{"field":"rsi","type":"quantitative"}}},
{"data":{"name":"rt"},"mark":{"type":"text","fontSize":5,"color":"#555","align":"left","baseline":"middle"},
 "encoding":{"x":{"datum":169.9},"y":{"field":"v","type":"quantitative"},"text":{"field":"v","format":".2f"}}},
{"data":{"name":"xt"},"transform":[{"filter":"datum.t!='2024'"}],"mark":{"type":"text","fontSize":5,"color":"#555","baseline":"middle"},
 "encoding":{"x":{"field":"i","type":"quantitative"},"y":{"datum":24.5},"text":{"field":"t"}}},
{"data":{"name":"xt"},"transform":[{"filter":"datum.t=='2024'"}],"mark":{"type":"text","fontSize":5,"color":"#333","fontWeight":"bold","baseline":"middle"},
 "encoding":{"x":{"field":"i","type":"quantitative"},"y":{"datum":24.5},"text":{"field":"t"}}},
{"data":{"name":"one"},"mark":{"type":"text","fontSize":5,"color":"#666","align":"left","baseline":"middle","text":"RSI"},"encoding":{"x":{"datum":-4.0},"y":{"datum":68.6}}},
{"data":{"name":"one"},"mark":{"type":"text","fontSize":5,"color":"#7e57c2","align":"left","baseline":"middle","text":"46.87"},"encoding":{"x":{"datum":-1.5},"y":{"datum":68.6}}},
{"data":{"name":"one"},"mark":{"type":"text","fontSize":5,"color":"#e6b84a","align":"left","baseline":"middle","text":"46.75"},"encoding":{"x":{"datum":4.5},"y":{"datum":68.6}}},
{"data":{"name":"one"},"mark":{"type":"text","fontSize":5,"color":"#999","align":"left","baseline":"middle","text":"∅ ∅ ∅ ∅"},"encoding":{"x":{"datum":9.6},"y":{"datum":68.6}}}
]
}
]
}
